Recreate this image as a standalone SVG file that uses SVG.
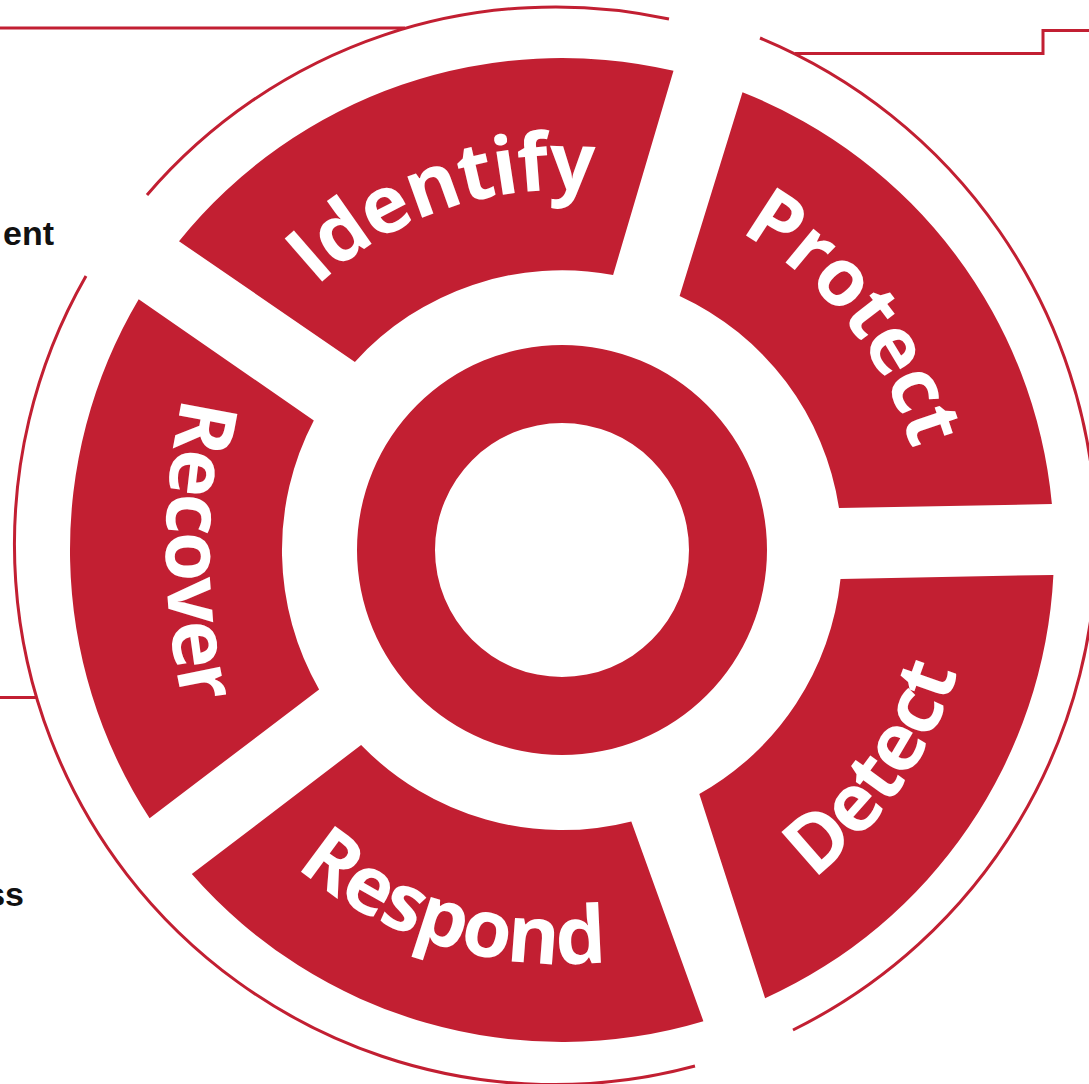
<svg xmlns="http://www.w3.org/2000/svg" width="1089" height="1084" viewBox="0 0 1089 1084">
<style>
.seg{fill:#C21F32}
.ring{fill:none;stroke:#C21F32;stroke-width:3}
.lbl{fill:#fff;font-family:"Open Sans","Liberation Sans",sans-serif;font-weight:700;font-size:80px;letter-spacing:-1.5px}
.side{fill:#111;font-family:"Liberation Sans",Arial,sans-serif;font-weight:700;font-size:34px}
</style>
<defs>
<path id="pIdentify" d="M208.6,481.3 A360,360 0 0 1 798.2,278.3"/>
<path id="pProtect" d="M508.2,190 A364,364 0 0 1 900.7,683.4"/>
<path id="pDetect" d="M526.3,962.4 A414,414 0 0 0 937.2,375"/>
<path id="pRespond" d="M158.6,643.1 A414,414 0 0 0 844.3,852.8"/>
<path id="pRecover" d="M259.8,200 A700,700 0 0 0 259.8,900"/>
</defs>
<rect width="1089" height="1084" fill="#fff"/>
<g id="connectors">
<path class="ring" d="M86,276 A540,540 0 0 0 695,1066"/>
<path class="ring" d="M760,38 A545,545 0 0 1 793,1030"/>
<path class="ring" d="M147,195 A538,538 0 0 1 669,19"/>
<path class="ring" d="M0,28 H405"/>
<path class="ring" d="M0,697.5 H36"/>
<path class="ring" d="M795,53.5 H1043 V30.5 H1089"/>
</g>
<g id="identify">
<path class="seg" d="M179,241.2 A492,492 0 0 1 673.5,70.8 L613.1,274.9 A280,280 0 0 0 354.9,361.9 Z"/>
<text class="lbl"><textPath href="#pIdentify" startOffset="50%" text-anchor="middle">Identify</textPath></text>
</g>
<g id="protect">
<path class="seg" d="M742.5,92.3 A492,492 0 0 1 1051.9,504.1 L839,508 A280,280 0 0 0 679.6,295.9 Z"/>
<text class="lbl"><textPath href="#pProtect" startOffset="50%" text-anchor="middle">Protect</textPath></text>
</g>
<g id="detect">
<path class="seg" d="M1053.4,574.9 A492,492 0 0 1 765.1,998.2 L699.3,794 A280,280 0 0 0 840.5,579 Z"/>
<text class="lbl"><textPath href="#pDetect" startOffset="50%" text-anchor="middle">Detect</textPath></text>
</g>
<g id="respond">
<path class="seg" d="M703.4,1021.2 A492,492 0 0 1 191.8,874.1 L361.1,745 A280,280 0 0 0 631.3,821.4 Z"/>
<text class="lbl"><textPath href="#pRespond" startOffset="50%" text-anchor="middle">Respond</textPath></text>
</g>
<g id="recover">
<path class="seg" d="M149.6,818.3 A492,492 0 0 1 138.7,299.2 L313.8,420.4 A280,280 0 0 0 319.1,689.4 Z"/>
<text class="lbl"><textPath href="#pRecover" startOffset="50%" text-anchor="middle">Recover</textPath></text>
</g>
<g id="center">
<path class="seg" fill-rule="evenodd" d="M357,550 A205,205 0 1 0 767,550 A205,205 0 1 0 357,550 Z M435,550 A127,127 0 1 0 689,550 A127,127 0 1 0 435,550 Z"/>
</g>
<g id="side-texts">
<text class="side" x="54" y="245" text-anchor="end">ent</text>
<text class="side" x="24" y="906" text-anchor="end">ss</text>
</g>
</svg>
